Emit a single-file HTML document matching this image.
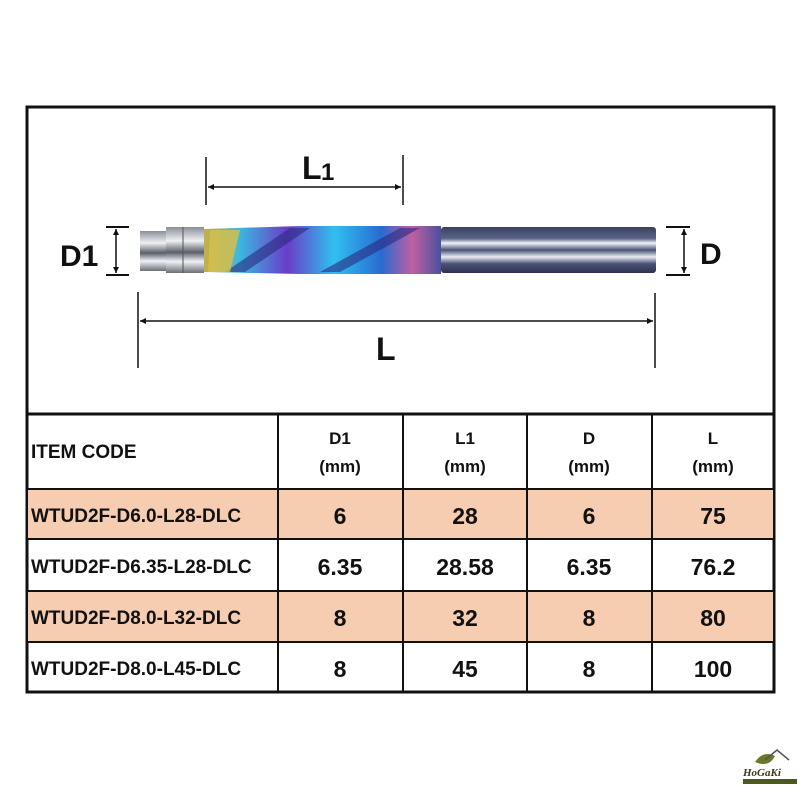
<!DOCTYPE html>
<html><head><meta charset="utf-8"><style>
body{margin:0;background:#fff;width:800px;height:800px;overflow:hidden;font-family:"Liberation Sans",Arial,sans-serif}
</style></head><body>
<svg width="800" height="800" viewBox="0 0 800 800" xmlns="http://www.w3.org/2000/svg" font-family="Liberation Sans, Arial, sans-serif">
<defs>
<linearGradient id="sh" x1="0" y1="0" x2="0" y2="1">
<stop offset="0" stop-color="#3a4260"/><stop offset="0.25" stop-color="#5a6488"/><stop offset="0.35" stop-color="#f2f4f8"/><stop offset="0.5" stop-color="#4a5274"/><stop offset="0.65" stop-color="#e8ecf2"/><stop offset="0.8" stop-color="#4a5274"/><stop offset="1" stop-color="#2c3250"/>
</linearGradient>
<linearGradient id="br" x1="0" y1="0" x2="0" y2="1">
<stop offset="0" stop-color="#8a8f99"/><stop offset="0.3" stop-color="#eef0f3"/><stop offset="0.55" stop-color="#5a5f69"/><stop offset="0.75" stop-color="#f0f2f4"/><stop offset="1" stop-color="#6a6f79"/>
</linearGradient>
<linearGradient id="fl" x1="0" y1="0" x2="1" y2="0">
<stop offset="0" stop-color="#c8b040"/><stop offset="0.15" stop-color="#3bb8e0"/><stop offset="0.35" stop-color="#6a3cc8"/><stop offset="0.55" stop-color="#30c0f0"/><stop offset="0.75" stop-color="#2a6ad0"/><stop offset="0.88" stop-color="#c060a0"/><stop offset="1" stop-color="#4a50a0"/>
</linearGradient>
</defs>
<rect x="27" y="107" width="747" height="585" fill="none" stroke="#111" stroke-width="3"/>
<rect x="28" y="489" width="745" height="50" fill="#f7cdb2"/>
<rect x="28" y="591" width="745" height="51" fill="#f7cdb2"/>
<g stroke="#111" stroke-width="2">
<line x1="27" y1="414" x2="774" y2="414" stroke-width="3"/>
<line x1="27" y1="489" x2="774" y2="489"/>
<line x1="27" y1="539" x2="774" y2="539"/>
<line x1="27" y1="591" x2="774" y2="591"/>
<line x1="27" y1="642" x2="774" y2="642"/>
<line x1="278" y1="414" x2="278" y2="692"/>
<line x1="403" y1="414" x2="403" y2="692"/>
<line x1="527" y1="414" x2="527" y2="692"/>
<line x1="652" y1="414" x2="652" y2="692"/>
</g>
<g font-weight="bold" fill="#111">
<text x="31" y="458" font-size="19">ITEM CODE</text>
<g font-size="17" text-anchor="middle">
<text x="340" y="444">D1</text><text x="340" y="472">(mm)</text>
<text x="465" y="444">L1</text><text x="465" y="472">(mm)</text>
<text x="589" y="444">D</text><text x="589" y="472">(mm)</text>
<text x="713" y="444">L</text><text x="713" y="472">(mm)</text>
</g>
<g font-size="19">
<text x="31" y="522">WTUD2F-D6.0-L28-DLC</text>
<text x="31" y="573">WTUD2F-D6.35-L28-DLC</text>
<text x="31" y="624">WTUD2F-D8.0-L32-DLC</text>
<text x="31" y="675">WTUD2F-D8.0-L45-DLC</text>
</g>
<g font-size="23" text-anchor="middle">
<text x="340" y="524">6</text><text x="465" y="524">28</text><text x="589" y="524">6</text><text x="713" y="524">75</text>
<text x="340" y="575">6.35</text><text x="465" y="575">28.58</text><text x="589" y="575">6.35</text><text x="713" y="575">76.2</text>
<text x="340" y="626">8</text><text x="465" y="626">32</text><text x="589" y="626">8</text><text x="713" y="626">80</text>
<text x="340" y="677">8</text><text x="465" y="677">45</text><text x="589" y="677">8</text><text x="713" y="677">100</text>
</g>
<text x="302" y="179" font-size="32">L</text><text x="321" y="180" font-size="24">1</text>
<text x="60" y="266" font-size="30">D1</text>
<text x="700" y="264" font-size="30">D</text>
<text x="376" y="360" font-size="32">L</text>
</g>
<rect x="441" y="227" width="215" height="46" rx="3" fill="url(#sh)"/>
<path d="M204 229 L300 226 L441 226 L441 274 L300 274 L204 272 Z" fill="url(#fl)"/>
<path d="M225 272 L290 228 L310 228 L245 272 Z M320 272 L400 228 L420 228 L340 272 Z" fill="#2a2a80" opacity="0.6"/>
<path d="M210 230 L240 230 L230 272 L208 272 Z" fill="#d8c048" opacity="0.8"/>
<rect x="140" y="231" width="30" height="40" fill="url(#br)"/>
<rect x="166" y="227" width="38" height="46" fill="url(#br)"/>
<line x1="183" y1="227" x2="183" y2="273" stroke="#555"/>
<g stroke="#111" stroke-width="1.5" fill="none">
<line x1="206" y1="157" x2="206" y2="205"/><line x1="403" y1="155" x2="403" y2="205"/>
<line x1="208" y1="187" x2="401" y2="187"/>
<line x1="138" y1="292" x2="138" y2="368"/><line x1="655" y1="293" x2="655" y2="368"/>
<line x1="140" y1="321" x2="653" y2="321"/>
<line x1="106" y1="227" x2="129" y2="227" stroke-width="2"/><line x1="106" y1="275" x2="129" y2="275" stroke-width="2"/>
<line x1="116" y1="229" x2="116" y2="273"/>
<line x1="666" y1="227" x2="690" y2="227" stroke-width="2"/><line x1="666" y1="275" x2="690" y2="275" stroke-width="2"/>
<line x1="684" y1="229" x2="684" y2="273"/>
</g>
<g fill="#111">
<path d="M208 187 l6 -3 v6z"/><path d="M401 187 l-6 -3 v6z"/>
<path d="M140 321 l6 -3 v6z"/><path d="M653 321 l-6 -3 v6z"/>
<path d="M116 229 l-3 6 h6z"/><path d="M116 273 l-3 -6 h6z"/>
<path d="M684 229 l-3 6 h6z"/><path d="M684 273 l-3 -6 h6z"/>
</g>
<path d="M755 762 q8 -12 20 -6 q-6 12 -20 6z" fill="#6b7a2a"/>
<path d="M765 760 l12 -10 l12 10" fill="none" stroke="#555" stroke-width="1.5"/>
<text x="743" y="776" font-size="11" font-style="italic" font-weight="bold" fill="#3a3a1a" font-family="Liberation Serif, serif">HoGaKi</text>
<rect x="743" y="779" width="54" height="5" fill="#4a5a1a"/>
</svg>
</body></html>
